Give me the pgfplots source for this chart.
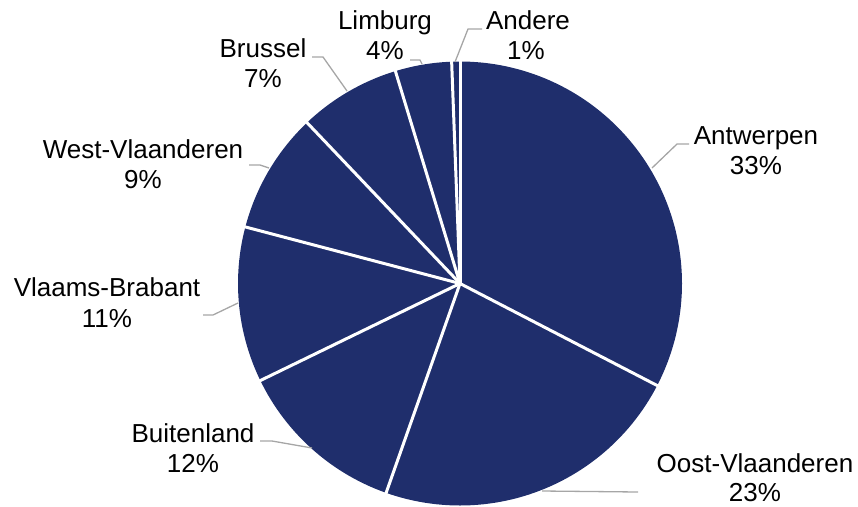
\documentclass[border=0pt]{standalone}
\usepackage{pgfplots}
\pgfplotsset{compat=1.18}
\usepackage{fontspec}
\setmainfont{Liberation Sans}
\definecolor{navy}{RGB}{31,46,108}
\definecolor{lead}{RGB}{166,166,166}
% shares (percent), clockwise from top:
% Antwerpen 32.6, Oost-Vlaanderen 22.8, Buitenland 12.4, Vlaams-Brabant 11.3,
% West-Vlaanderen 8.8, Brussel 7.4, Limburg 4.1, Andere 0.6
\newcommand{\cx}{460}
\newcommand{\cy}{283.5}
\newcommand{\R}{222}
\tikzset{lbl/.style={anchor=base, inner sep=0pt, font=\fontsize{26}{31}\selectfont}}
\begin{document}
\begin{tikzpicture}
\begin{axis}[scale only axis, width=858pt, height=506pt,
  xmin=0, xmax=858, ymin=0, ymax=506, y dir=reverse,
  hide axis, clip=false]
\addplot[fill=navy, draw=none, domain=0:360, samples=241] ({\cx+\R*cos(x)},{\cy+\R*sin(x)});
% cumulative shares at slice boundaries
\pgfplotsinvokeforeach{0,32.6,55.4,67.8,79.1,87.9,95.3,99.4}{
  \addplot[white, line width=3pt, domain=0:224, samples=2]
    ({\cx+x*cos(90-3.6*#1)},{\cy-x*sin(90-3.6*#1)});
}
% leader lines
\addplot[lead, line width=1.3pt] coordinates {(455,62) (468,29) (482,29)};
\addplot[lead, line width=1.3pt] coordinates {(410,60) (420,60) (422,64)};
\addplot[lead, line width=1.3pt] coordinates {(312,57) (323,57) (347,91)};
\addplot[lead, line width=1.3pt] coordinates {(249,165) (260,165) (269,168)};
\addplot[lead, line width=1.3pt] coordinates {(203,315) (213,315) (238,303)};
\addplot[lead, line width=1.3pt] coordinates {(260,441) (272,441) (312,448)};
\addplot[lead, line width=1.3pt] coordinates {(542,491) (638,492)};
\addplot[lead, line width=1.3pt] coordinates {(689,144) (677,144) (652,168)};
% labels
\node[lbl] at (axis cs:756,144) {Antwerpen};
\node[lbl] at (axis cs:756,174) {33\%};
\node[lbl] at (axis cs:755,472) {Oost-Vlaanderen};
\node[lbl] at (axis cs:755,501) {23\%};
\node[lbl] at (axis cs:193,442) {Buitenland};
\node[lbl] at (axis cs:193,472) {12\%};
\node[lbl] at (axis cs:107,296) {Vlaams-Brabant};
\node[lbl] at (axis cs:107,327) {11\%};
\node[lbl] at (axis cs:143,158) {West-Vlaanderen};
\node[lbl] at (axis cs:143,188) {9\%};
\node[lbl] at (axis cs:263,57) {Brussel};
\node[lbl] at (axis cs:263,87) {7\%};
\node[lbl] at (axis cs:385,29) {Limburg};
\node[lbl] at (axis cs:385,59) {4\%};
\node[lbl] at (axis cs:528,29) {Andere};
\node[lbl] at (axis cs:526,59) {1\%};
\end{axis}
\pgfresetboundingbox
\useasboundingbox (current axis.south west) rectangle (current axis.north east);
\end{tikzpicture}
\end{document}
